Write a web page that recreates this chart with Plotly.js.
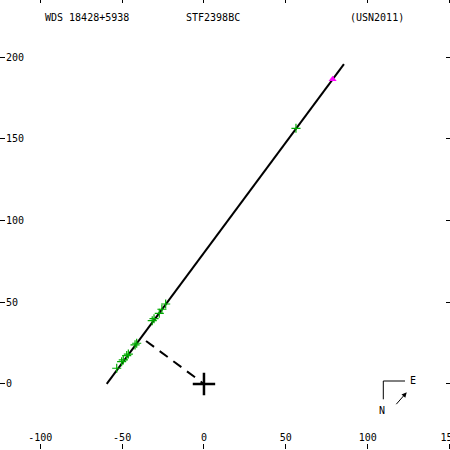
<!DOCTYPE html>
<html>
<head>
<meta charset="utf-8">
<script src="https://cdn.plot.ly/plotly-3.0.1.min.js"></script>
<style>
html,body{margin:0;padding:0;overflow:hidden;background:#fff;width:450px;height:450px;}
#chart{position:absolute;left:0;top:-2px;width:451px;height:451px;}
</style>
</head>
<body>
<div id="chart"></div>
<script>
// Apparent orbit (edge-on, drawn as a line)
const orbitX = [-59.4, 85.5];
const orbitY = [0, 195.7];
// Micrometric / speckle observations (green +)
const obsX = [56.2, -23.4, -25.7, -27.3, -30.5, -31.6, -41.1, -42.1, -46.2, -47.2, -49.3, -50.3, -53.3];
const obsY = [156.4, 48.9, 45.7, 43.2, 39.9, 38.7, 24.9, 23.9, 18.3, 17.3, 14.7, 13.6, 9.6];
// Other observation (magenta)
const specX = [78.6];
const specY = [186.4];
// Periastron line (dashed)
const periX = [-35.4, 0];
const periY = [26.3, 0];
// Primary star
const primX = [0];
const primY = [0];
// Axis ticks
const xTicks = [-100, -50, 0, 50, 100, 150];
const yTicks = [0, 50, 100, 150, 200];
const titleLeft = 'WDS 18428+5938';
const titleMid = 'STF2398BC';
const titleRight = '(USN2011)';

const mono = 'DejaVu Sans Mono, monospace';

const traces = [
  {x: orbitX, y: orbitY, mode: 'lines', line: {color: '#000', width: 2}, hoverinfo: 'skip'},
  {x: periX, y: periY, mode: 'lines', line: {color: '#000', width: 2, dash: '10px,7px'}, hoverinfo: 'skip'},
  {x: obsX, y: obsY, mode: 'markers', marker: {symbol: 'cross-thin', size: 6.5, line: {color: '#00aa00', width: 1.2}}},
  {x: specX, y: specY, mode: 'markers', marker: {symbol: 'triangle-up', size: 7, color: '#ff00ff'}},
  {x: primX, y: primY, mode: 'markers', marker: {symbol: 'cross-thin', size: 16, line: {color: '#000', width: 2.5}}}
];

const layout = {
  width: 451, height: 451,
  margin: {l: 0, r: 0, t: 0, b: 0, pad: 0},
  paper_bgcolor: '#fff', plot_bgcolor: '#fff',
  showlegend: false,
  xaxis: {
    range: [-124.6, 150.9], tickvals: xTicks, ticktext: xTicks.map(String),
    ticks: 'inside', ticklen: 5, tickwidth: 1, tickcolor: '#000',
    ticklabelposition: 'inside', ticklabeloverflow: 'allow',
    showline: true, linecolor: '#000', linewidth: 2, mirror: 'ticks',
    showgrid: false, zeroline: false,
    tickfont: {family: mono, size: 10, color: '#000'}
  },
  yaxis: {
    range: [-39.8, 236.1], tickvals: yTicks, ticktext: yTicks.map(String),
    ticks: 'inside', ticklen: 5, tickwidth: 1, tickcolor: '#000',
    ticklabelposition: 'inside', ticklabeloverflow: 'allow',
    showline: true, linecolor: '#000', linewidth: 2, mirror: 'ticks',
    showgrid: false, zeroline: false,
    tickfont: {family: mono, size: 10, color: '#000'}
  },
  annotations: [
    {text: titleLeft, xref: 'paper', yref: 'paper', x: 86.5/451, y: (449-18)/451, showarrow: false, xanchor: 'center', yanchor: 'middle', font: {family: mono, size: 10, color: '#000'}},
    {text: titleMid, xref: 'paper', yref: 'paper', x: 212.5/451, y: (449-18)/451, showarrow: false, xanchor: 'center', yanchor: 'middle', font: {family: mono, size: 10, color: '#000'}},
    {text: titleRight, xref: 'paper', yref: 'paper', x: 377/451, y: (449-18)/451, showarrow: false, xanchor: 'center', yanchor: 'middle', font: {family: mono, size: 10, color: '#000'}},
    {text: 'E', xref: 'paper', yref: 'paper', x: 412.5/451, y: (449-380.5)/451, showarrow: false, xanchor: 'center', yanchor: 'middle', font: {family: mono, size: 10, color: '#000'}},
    {text: 'N', xref: 'paper', yref: 'paper', x: 382.3/451, y: (449-410.5)/451, showarrow: false, xanchor: 'center', yanchor: 'middle', font: {family: mono, size: 10, color: '#000'}},
    {text: '', xref: 'paper', yref: 'paper', axref: 'paper', ayref: 'paper',
     x: 406.7/451, y: (449-392.3)/451, ax: 395/451, ay: (449-405.7)/451,
     showarrow: true, arrowhead: 2, arrowsize: 1, arrowwidth: 1, arrowcolor: '#000'}
  ],
  shapes: [
    {type: 'line', xref: 'paper', yref: 'paper', x0: 383.3/451, x1: 383.3/451, y0: (449-381)/451, y1: (449-399.3)/451, line: {color: '#000', width: 1}},
    {type: 'line', xref: 'paper', yref: 'paper', x0: 383.3/451, x1: 405/451, y0: (449-381)/451, y1: (449-381)/451, line: {color: '#000', width: 1}}
  ]
};

Plotly.newPlot('chart', traces, layout, {displayModeBar: false, staticPlot: true});
</script>
</body>
</html>
